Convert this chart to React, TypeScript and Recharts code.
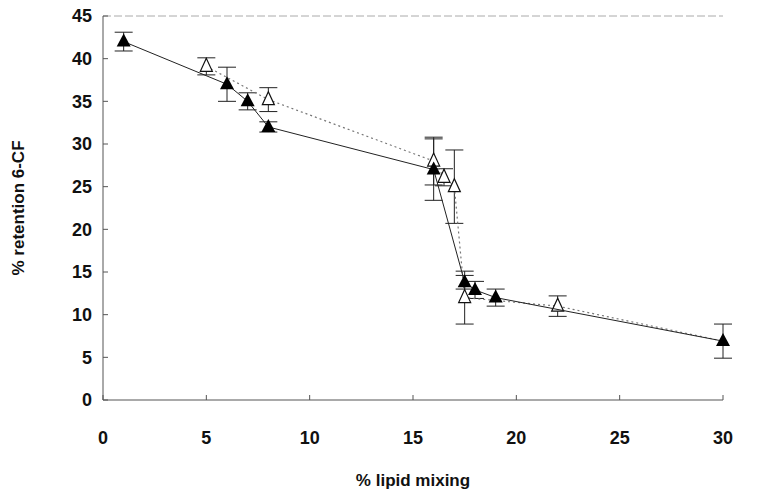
import React from 'react';
import {
  ScatterChart,
  Scatter,
  XAxis,
  YAxis,
  ErrorBar,
  ReferenceLine,
} from 'recharts';

// filled triangles (solid line)
const filledX = [1, 6, 7, 8, 16, 17.5, 18, 19, 30];
const filledY = [42, 37, 35, 32, 27, 13.8, 12.9, 12, 6.9];
const filledErr = [1.1, 2, 1, 0.6, 3.6, 0.8, 1, 1, 2];

// open triangles (dotted line)
const openX = [5, 8, 16, 16.5, 17, 17.5, 22, 30];
const openY = [39.1, 35.2, 28, 26.1, 25, 12, 11, 6.9];
const openErr = [1, 1.4, 2.8, 1, 4.3, 3.1, 1.2, 0];

const xTicks = [0, 5, 10, 15, 20, 25, 30];
const yTicks = [0, 5, 10, 15, 20, 25, 30, 35, 40, 45];

const filledData = filledX.map((x, i) => ({ x, y: filledY[i], err: filledErr[i] }));
const openData = openX.map((x, i) => ({ x, y: openY[i], err: openErr[i] }));

const FilledTriangle = (props: any) => {
  const { cx, cy } = props;
  if (cx == null || cy == null) return null;
  return (
    <polygon
      points={`${cx},${cy - 8} ${cx - 7},${cy + 5} ${cx + 7},${cy + 5}`}
      fill="#000"
    />
  );
};

const OpenTriangle = (props: any) => {
  const { cx, cy, payload } = props;
  if (cx == null || cy == null) return null;
  // last point is shared with the filled series, only the line goes there
  if (payload && payload.x === 30) return null;
  return (
    <polygon
      points={`${cx},${cy - 8} ${cx - 6},${cy + 5} ${cx + 6},${cy + 5}`}
      fill="#fff"
      stroke="#111"
      strokeWidth={1.2}
    />
  );
};

const font = 'Liberation Sans, Arial, sans-serif';
const tickStyle = { fontFamily: font, fontSize: 18, fontWeight: 'bold', fill: '#111' };
const labelStyle = { fontFamily: font, fontSize: 17, fontWeight: 'bold', fill: '#111' };

export default function App() {
  return (
    <div style={{ position: 'absolute', left: 0, top: 0, background: '#fff' }}>
      <ScatterChart width={757} height={493} margin={{ top: 16, right: 34, bottom: 50, left: 0 }}>
        <XAxis
          type="number"
          dataKey="x"
          domain={[0, 30]}
          ticks={xTicks}
          height={43}
          stroke="#555"
          tickSize={-5}
          tickMargin={36}
          tick={tickStyle}
          label={{
            value: '% lipid mixing',
            position: 'bottom',
            offset: 31,
            style: labelStyle,
          }}
        />
        <YAxis
          type="number"
          dataKey="y"
          domain={[0, 45]}
          ticks={yTicks}
          width={103}
          stroke="#555"
          tickSize={-5}
          tickMargin={16}
          tick={tickStyle}
          label={{
            value: '% retention 6-CF',
            angle: -90,
            position: 'insideLeft',
            offset: 18,
            style: { ...labelStyle, textAnchor: 'middle' },
          }}
        />
        <ReferenceLine y={45} stroke="#aaa" strokeWidth={1} strokeDasharray="8 3" />
        <Scatter
          data={openData}
          isAnimationActive={false}
          shape={OpenTriangle}
          line={{ stroke: '#777', strokeWidth: 1.2, strokeDasharray: '2 3' }}
          lineType="joint"
        >
          <ErrorBar dataKey="err" direction="y" width={9} stroke="#222" strokeWidth={1} />
        </Scatter>
        <Scatter
          data={filledData}
          isAnimationActive={false}
          shape={FilledTriangle}
          line={{ stroke: '#222', strokeWidth: 1 }}
          lineType="joint"
        >
          <ErrorBar dataKey="err" direction="y" width={9} stroke="#222" strokeWidth={1} />
        </Scatter>
      </ScatterChart>
    </div>
  );
}
